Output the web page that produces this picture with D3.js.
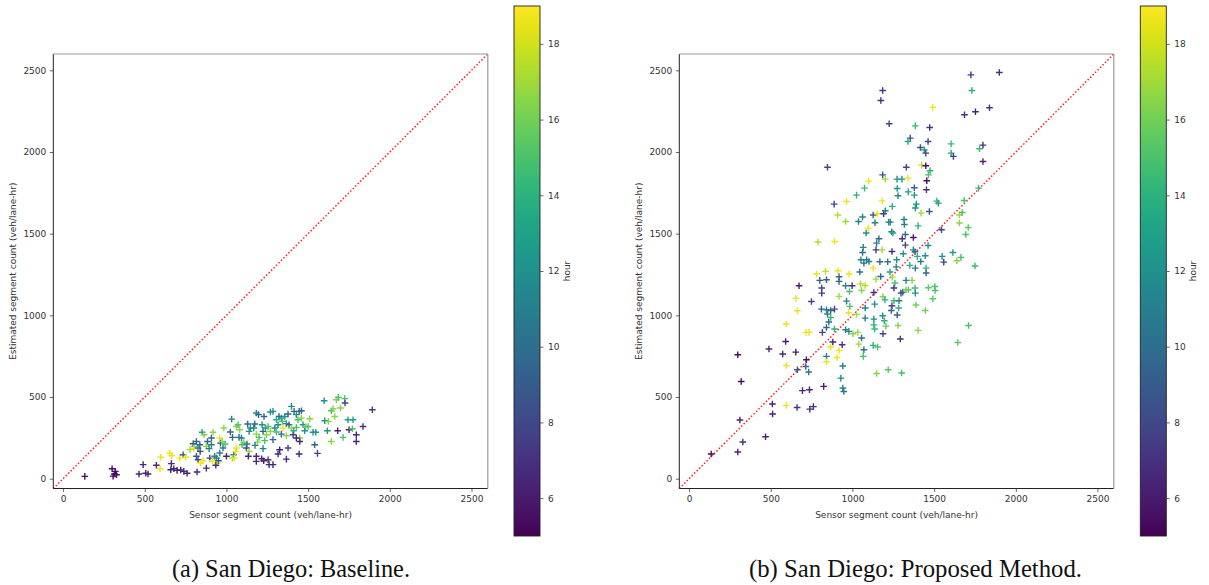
<!DOCTYPE html>
<html>
<head>
<meta charset="utf-8">
<script src="https://cdn.jsdelivr.net/npm/d3@7"></script>
<style>
  html, body { margin: 0; padding: 0; background: #fff; }
  svg { display: block; }
  .tick text { font-family: "DejaVu Sans", sans-serif; font-size: 9px; fill: #333; }
  .tick line { stroke: #444; stroke-width: 0.8; }
  .lbl { font-family: "DejaVu Sans", sans-serif; font-size: 9px; fill: #333; }
  .cap { font-family: "Liberation Serif", "DejaVu Serif", serif; fill: #111; }
</style>
</head>
<body>
<svg id="chart" width="1209" height="585"></svg>
<script>
// ---------------- data ----------------
const axisDomain = [-60, 2600];
const axisTicks = [0, 500, 1000, 1500, 2000, 2500];
const hourDomain = [5, 19];
const hourTicks = [6, 8, 10, 12, 14, 16, 18];
const xLabel = "Sensor segment count (veh/lane-hr)";
const yLabel = "Estimated segment count (veh/lane-hr)";
const cbLabel = "hour";
const captions = ["(a) San Diego: Baseline.", "(b) San Diego: Proposed Method."];

const baselineX = [133,300,314,306,327,320,490,465,506,520,571,598,594,653,665,659,663,678,714,735,751,698,720,739,759,820,877,777,802,816,796,800,826,837,839,816,826,841,857,851,863,884,877,894,908,918,908,898,914,928,939,943,951,935,959,963,973,984,992,979,1000,959,1024,1032,1037,1045,1037,1049,1061,1057,1061,1071,1081,1077,1092,1106,1096,1122,1126,1139,1134,1139,1130,1147,1167,1173,1183,1196,1183,1200,1190,1175,1183,1183,1218,1230,1224,1239,1245,1255,1269,1234,1224,1216,1228,1255,1261,1285,1269,1285,1285,1296,1306,1316,1322,1336,1343,1347,1336,1306,1357,1367,1377,1398,1414,1428,1445,1459,1383,1398,1412,1428,1438,1459,1469,1485,1449,1428,1408,1367,1377,1326,1316,1367,1449,1445,1479,1500,1510,1530,1547,1540,1557,1598,1602,1642,1653,1663,1673,1685,1698,1724,1726,1618,1624,1681,1714,1751,1744,1775,1771,1795,1795,1836,1893,1642];
const baselineY = [14,61,29,16,24,45,86,29,33,29,82,131,61,155,141,55,92,61,126,147,131,51,53,45,33,41,65,178,198,228,214,184,188,208,167,137,116,96,110,284,269,228,198,184,208,284,249,126,110,137,126,96,110,82,249,218,228,310,212,188,137,157,286,365,253,147,126,126,188,167,320,330,300,253,249,222,208,188,212,167,137,290,335,310,310,335,402,392,273,253,224,204,137,106,330,381,290,310,269,320,290,233,184,122,110,116,86,86,408,412,239,310,286,330,381,371,351,310,273,361,381,337,396,443,412,392,412,416,330,310,294,314,361,371,330,320,249,249,269,263,188,177,151,120,228,151,294,320,367,284,284,208,155,477,355,416,428,381,483,498,433,490,463,294,351,294,253,300,361,361,306,269,228,320,422,228];
const baselineHour = [5.5,5.5,5.5,5.5,5.5,5.5,6.5,6.5,6.5,6.5,6.5,18.6,18.6,18.6,18.6,6.5,6.5,6.5,18.6,9,18.6,6,6.5,6.5,6.5,6.5,6.5,17,16,9.5,9,18.6,11,9.5,8,9,8,18.6,18.6,13,16.5,9.5,16.5,11,11,16.5,9.5,8,18.6,11,11,18.6,9.5,6.5,18.6,9.5,16.5,16.5,15,11,6.5,11,9.5,11,9.5,11,17,18.6,18.6,18.6,16.5,15,16.5,9.5,11,16.5,15,8,11,16.5,6.5,12,9.5,12,12,9.5,12,9.5,16.5,15,16.5,11,6.5,6.5,12,9.5,9.5,12,16.5,15,16.5,15,11,6.5,6.5,7,6.5,6.5,12,12,9.5,12,15,12,9.5,12,15,18.6,9.5,14,12,12,9.5,12,9.5,12,9.5,9.5,9.5,16.5,14,15,15,16.5,12,16.5,16.5,6.5,8,16.5,8,6.5,6.5,6.5,6.5,6.5,12,15,16.5,12,12,9.5,8,12,12,15,16.5,16.5,16.5,15,16.5,15,8,12,16.5,6.5,15,6.5,13,13,15,6.5,6.5,7,7.5,16.5];

const proposedX = [1725,1899,1185,1731,1174,1492,1839,1753,1686,1225,1385,1473,1354,1340,1463,1604,1416,1440,1449,1799,1778,1604,1618,1799,847,1330,1424,1449,1475,1465,1455,1185,1099,1201,1273,1303,1340,1074,1274,1379,1453,1342,1025,1279,1379,964,1182,888,1244,1516,1526,1391,1385,910,958,1062,1037,1127,1152,1191,1201,1420,1471,1138,1222,1232,1316,1318,1084,1097,1240,1248,1324,1305,1373,1402,1545,1655,1672,1655,1709,1694,789,890,1162,1148,1242,1324,1144,1182,1066,1062,1052,1087,1070,1101,1168,1216,1271,1311,1373,1397,1383,1418,1463,1446,1549,1559,1615,1639,1664,1750,1268,1351,1385,1451,1451,1230,1127,1045,1173,1144,780,835,841,800,912,980,918,918,958,998,1050,1078,1244,1260,1328,1365,673,812,812,918,982,964,1056,1131,1254,1297,1308,1328,1342,1383,1385,1465,1504,1506,1492,654,749,663,810,841,867,890,847,867,984,976,1025,1078,1136,1187,1199,1242,1254,1285,1283,1238,1274,1389,1446,595,855,841,890,716,734,816,958,978,1003,1033,1078,1131,1131,1136,1185,1195,1205,1187,1279,1402,1711,1645,1293,1056,1039,1127,1154,1070,1066,880,937,591,866,918,298,489,573,653,718,841,906,841,595,663,714,732,941,929,941,947,1148,1219,1301,319,824,694,737,510,595,661,761,739,511,311,468,329,298,135,1772,1684];
const proposedY = [2472,2487,2377,2377,2315,2273,2271,2246,2228,2173,2160,2150,2085,2064,2064,2050,2028,2013,1993,2042,2020,1993,1973,1942,1907,1907,1920,1916,1885,1860,1824,1860,1822,1834,1834,1834,1840,1779,1777,1781,1769,1756,1736,1732,1736,1697,1701,1681,1667,1699,1687,1681,1657,1614,1575,1602,1575,1614,1622,1622,1640,1626,1636,1567,1571,1571,1587,1556,1504,1534,1512,1504,1495,1469,1477,1548,1524,1614,1630,1565,1538,1495,1449,1452,1469,1442,1391,1430,1401,1401,1416,1385,1340,1340,1320,1330,1328,1328,1340,1377,1401,1361,1389,1330,1428,1365,1361,1326,1385,1334,1355,1302,1297,1306,1289,1289,1259,1265,1289,1265,1238,1222,1253,1269,1218,1214,1273,1253,1236,1208,1181,1181,1193,1183,1234,1198,1214,1214,1181,1167,1136,1116,1146,1087,1152,1140,1167,1136,1142,1157,1157,1167,1136,1169,1177,1152,1102,1104,1085,1028,1038,1034,1030,1038,1008,987,1055,1016,1006,1045,1069,1114,1095,1059,1089,1089,1045,1030,1002,1063,1030,947,959,926,916,896,896,896,912,902,887,896,983,977,942,916,998,967,934,887,938,908,938,834,855,861,824,816,806,789,749,837,820,840,806,785,759,794,763,775,728,749,742,716,693,667,687,653,690,616,555,534,644,667,647,595,565,539,545,457,449,436,441,426,396,359,257,225,163,151,1779,1703];
const proposedHour = [7.5,7,7.5,14,7,18.6,7,6.5,7,8,14.5,7,8.5,13.5,8,14.5,8.5,12.5,8,7,14.5,13.5,7.5,6.5,8,8,17.5,5.5,14,15,5.5,8.5,18.6,17,12,12,18.6,14.5,12.5,9.5,7,13,14,11.5,12.5,18.6,18.6,8,14,14.5,13,12,12.5,17.5,17,11,11,9,18.6,7,11,17,9,11,11.5,11.5,11,11,12,18.6,11,13.5,10,7,6,14,8,17,15,16.5,15.5,15,17.5,18.6,9.5,11,7,8,7.5,17,11.5,10,11,11,10,11,9.5,10.5,12,12,11.5,14,10,11,12,12,12,7.5,12.5,16.5,15,14.5,11,14,11,14,9.5,13,18.6,10,9.5,17,18.6,17.5,9,9,18.6,18.6,9.5,9,11,7,17,17.5,17,15,11,16.5,6,8,7.5,17,15,11,16.5,7,7,8,9,16.5,15.5,14.5,12,15.5,15,15,15.5,18.6,8,18.6,9,11,9.5,8,11,14.5,15,18.6,17,11,12,16.5,14,7.5,14.5,11,14,9.5,9,16,16,18.6,10,9.5,14,18.6,18.6,8,11,11.5,16.5,17,11,12,14,14.5,12,14,15.5,8,16.5,16.5,15,15.5,7,10,17,14,15,10,15,6.5,7,6,18.6,18.6,5.5,6.5,6.5,6,5.5,11,18.6,18.6,18.6,9,9.5,10.5,11,11.5,11.5,10.5,16.5,15.5,15,5.5,6,6.5,6.5,6.5,18.6,7,7,7,6.5,6.5,6.5,7,6.5,5.5,14.5,15];

// ---------------- layout ----------------
const svg = d3.select("#chart");
const color = d3.scaleSequential(d3.interpolateViridis).domain(hourDomain);
const size = 434.5;

const panels = [
  { left: 53.3, top: 54, cbLeft: 514, capX: 291, xs: baselineX, ys: baselineY, hs: baselineHour, cap: captions[0] },
  { left: 679.3, top: 54, cbLeft: 1140.3, capX: 915.5, xs: proposedX, ys: proposedY, hs: proposedHour, cap: captions[1] }
];

// gradient for colorbar
const defs = svg.append("defs");
const grad = defs.append("linearGradient").attr("id", "viridisGrad")
  .attr("x1", 0).attr("y1", 1).attr("x2", 0).attr("y2", 0);
d3.range(0, 1.0001, 0.02).forEach(t => {
  grad.append("stop").attr("offset", t).attr("stop-color", d3.interpolateViridis(t));
});

panels.forEach((p, i) => {
  const x = d3.scaleLinear().domain(axisDomain).range([0, size]);
  const y = d3.scaleLinear().domain(axisDomain).range([size, 0]);
  const g = svg.append("g").attr("transform", `translate(${p.left},${p.top})`);

  const xa = g.append("g").attr("transform", `translate(0,${size})`)
    .call(d3.axisBottom(x).tickValues(axisTicks).tickSize(3.5).tickPadding(4).tickFormat(d3.format("d")));
  xa.select(".domain").remove();
  const ya = g.append("g")
    .call(d3.axisLeft(y).tickValues(axisTicks).tickSize(3.5).tickPadding(3.5).tickFormat(d3.format("d")));
  ya.select(".domain").remove();

  g.append("line")
    .attr("x1", x(axisDomain[0])).attr("y1", y(axisDomain[0]))
    .attr("x2", x(axisDomain[1])).attr("y2", y(axisDomain[1]))
    .attr("stroke", "#ff2020").attr("stroke-width", 1.5).attr("stroke-dasharray", "1.5,2");

  const pts = p.xs.map((v, k) => ({ x: v, y: p.ys[k], h: p.hs[k] }));
  g.append("g").selectAll("path").data(pts).join("path")
    .attr("transform", d => `translate(${x(d.x)},${y(d.y)})`)
    .attr("d", "M-3.3,0H3.3M0,-3.3V3.3")
    .attr("stroke", d => color(d.h))
    .attr("stroke-width", 1.4)
    .attr("fill", "none");

  g.append("line").attr("x1", 0).attr("y1", 0).attr("x2", 0).attr("y2", size).attr("stroke", "#222").attr("stroke-width", 1);
  g.append("line").attr("x1", 0).attr("y1", size).attr("x2", size).attr("y2", size).attr("stroke", "#222").attr("stroke-width", 1);
  g.append("line").attr("x1", 0).attr("y1", 0).attr("x2", size).attr("y2", 0).attr("stroke", "#999").attr("stroke-width", 1.2);
  g.append("line").attr("x1", size).attr("y1", 0).attr("x2", size).attr("y2", size).attr("stroke", "#999").attr("stroke-width", 1.2);

  g.append("text").attr("class", "lbl").attr("x", size / 2).attr("y", size + 29)
    .attr("text-anchor", "middle").text(xLabel);
  g.append("text").attr("class", "lbl")
    .attr("transform", `translate(${-37.5},${size / 2}) rotate(-90)`)
    .attr("text-anchor", "middle").text(yLabel);

  const cbTop = 6, cbH = 530, cbW = 26;
  const cy = d3.scaleLinear().domain(hourDomain).range([cbH, 0]);
  const cb = svg.append("g").attr("transform", `translate(${p.cbLeft},${cbTop})`);
  cb.append("rect").attr("width", cbW).attr("height", cbH).attr("fill", "url(#viridisGrad)");
  cb.append("rect").attr("width", cbW).attr("height", cbH).attr("fill", "none").attr("stroke", "#222").attr("stroke-width", 0.9);
  const ca = cb.append("g").attr("transform", `translate(${cbW},0)`)
    .call(d3.axisRight(cy).tickValues(hourTicks).tickSize(3.5).tickPadding(4.5));
  ca.select(".domain").remove();
  cb.append("text").attr("class", "lbl")
    .attr("transform", `translate(${cbW + 27},${cbH / 2}) rotate(-90)`)
    .attr("text-anchor", "middle").attr("dy", "0.35em").text(cbLabel);

  const cap = svg.append("text").attr("class", "cap")
    .attr("x", p.capX).attr("y", 577).attr("text-anchor", "middle")
    .style("font-size", "20px").text(p.cap);
  const target = i === 0 ? 238 : 333;
  const len = cap.node().getComputedTextLength();
  cap.style("font-size", (20 * target / len).toFixed(2) + "px");
});
</script>
</body>
</html>
